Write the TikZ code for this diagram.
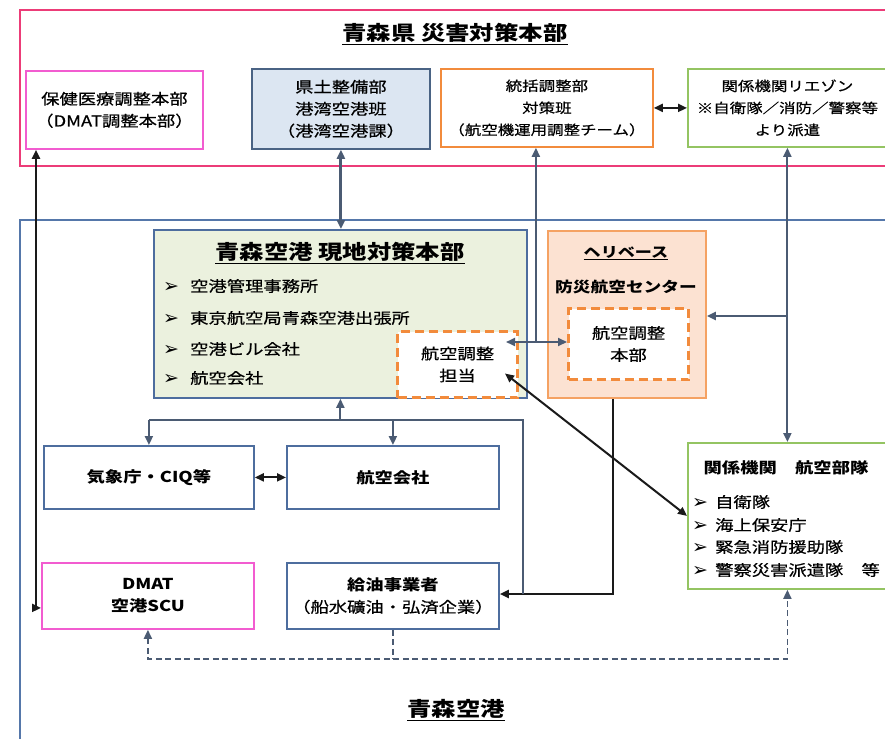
\documentclass[tikz,border=0pt]{standalone}
\usepackage{fontspec}
\setmainfont{Noto Sans CJK JP}[FakeStretch=1.22, UprightFeatures={FakeBold=0.6}]
\newfontfamily\djv{DejaVu Sans}
\usetikzlibrary{arrows.meta,calc}
\definecolor{prefc}{HTML}{EC3C78}
\definecolor{magc}{HTML}{F25CD0}
\definecolor{navyc}{HTML}{4A6384}
\definecolor{lbluec}{HTML}{DCE6F2}
\definecolor{orgc}{HTML}{F28B3C}
\definecolor{grnc}{HTML}{94C462}
\definecolor{apbc}{HTML}{5577AA}
\definecolor{lgrnc}{HTML}{EBF1DE}
\definecolor{lorgc}{HTML}{FCE2D2}
\definecolor{linec}{HTML}{4B5B73}
\definecolor{bxc}{HTML}{4D6D9E}
\definecolor{blkc}{HTML}{1A1A1A}
\newcommand{\blt}{\raisebox{-1pt}{\djv\bfseries\fontsize{19}{20}\selectfont ➢}}
\begin{document}
\begin{tikzpicture}[x=1pt,y=-1pt, >={Triangle[length=9pt,width=8pt]},
  bx/.style={draw, line width=1.8pt, anchor=north west, inner sep=0pt, align=center},
  dbox/.style={draw=orgc, fill=white, line width=3pt, dash pattern=on 9pt off 5pt, anchor=north west, inner sep=0pt, align=center},
  gl/.style={draw=linec, line width=2pt},
  gw/.style={draw=linec, line width=3pt},
  bl/.style={draw=blkc, line width=2pt},
  dl/.style={draw=linec, line width=1.8pt, dash pattern=on 6pt off 3.5pt},
  fa/.style={font=\fontsize{15}{22}\selectfont},
  fb/.style={font=\fontsize{13.5}{22}\selectfont},
  ft/.style={font=\bfseries\fontsize{20}{22}\selectfont},
  fi/.style={font=\fontsize{15}{20}\selectfont, anchor=west, inner sep=0pt}
]
\useasboundingbox (0,0) rectangle (885,738);
\fill[white] (0,0) rectangle (885,738);

% containers
\node[bx, draw=prefc, line width=2pt, minimum width=880pt, minimum height=156pt] (pref) at (19,9) {};
\node[bx, draw=apbc, line width=2pt, minimum width=880pt, minimum height=540pt] (apt) at (19,219) {};
\node[ft] (preft) at (455,34) {\underline{青森県 災害対策本部}};
\node[ft] (aptt) at (456,710) {\underline{青森空港}};

% top boxes
\node[bx, draw=magc, fa, minimum width=177pt, minimum height=78pt] (hoken) at (25,70) {保健医療調整本部\\（DMAT調整本部）};
\node[bx, draw=navyc, fill=lbluec, fa, minimum width=178pt, minimum height=80pt] (kendo) at (251,68) {県土整備部\\港湾空港班\\（港湾空港課）};
\node[bx, draw=orgc, fb, minimum width=212pt, minimum height=78pt] (tokatsu) at (440,68) {統括調整部\\対策班\\（航空機運用調整チーム）};
\node[bx, draw=grnc, fb, minimum width=199pt, minimum height=78pt] (liaison) at (687,68) {関係機関リエゾン\\※自衛隊／消防／警察等\\より派遣};

% local HQ
\node[bx, draw=bxc, fill=lgrnc, minimum width=373pt, minimum height=168pt] (genchi) at (153,229) {};
\node[ft] (genchit) at (340,253) {\underline{青森空港 現地対策本部}};
\node[fi] (g1) at (163,286) {\makebox[27pt][l]{\blt}空港管理事務所};
\node[fi] (g2) at (163,318) {\makebox[27pt][l]{\blt}東京航空局青森空港出張所};
\node[fi] (g3) at (163,349) {\makebox[27pt][l]{\blt}空港ビル会社};
\node[fi] (g4) at (163,378) {\makebox[27pt][l]{\blt}航空会社};
\node[dbox, fa, minimum width=120pt, minimum height=66pt] (tanto) at (396,330) {航空調整\\担当};

% heli base
\node[bx, draw=orgc!80, fill=lorgc, minimum width=158pt, minimum height=167pt] (heli) at (547,230) {};
\node[font=\bfseries\fontsize{14}{18}\selectfont] (helit) at (626,253) {\underline{ヘリベース}};
\node[font=\bfseries\fontsize{14.5}{18}\selectfont] (helis) at (626,287) {防災航空センター};
\node[dbox, fa, minimum width=120pt, minimum height=71pt] (honbu) at (567,307) {航空調整\\本部};

% lower boxes
\node[bx, draw=bxc, font=\bfseries\fontsize{15}{22}\selectfont, minimum width=210pt, minimum height=63pt] (kisho) at (43,445) {気象庁・CIQ等};
\node[bx, draw=bxc, font=\bfseries\fontsize{15}{22}\selectfont, minimum width=212pt, minimum height=63pt] (koku) at (286,445) {航空会社};
\node[bx, draw=magc, font=\bfseries\fontsize{15}{22}\selectfont, minimum width=212pt, minimum height=66pt] (dmat) at (41,562) {DMAT\\空港SCU};
\node[bx, draw=bxc, fa, minimum width=212pt, minimum height=66pt] (kyuyu) at (286,562) {\textbf{給油事業者}\\（船水礦油・弘済企業）};

% air units
\node[bx, draw=grnc, minimum width=199pt, minimum height=146pt] (butai) at (687,442) {};
\node[font=\bfseries\fontsize{15}{20}\selectfont] (butait) at (786,468) {関係機関　航空部隊};
\node[fi] (b1) at (692,502) {\makebox[23pt][l]{\blt}自衛隊};
\node[fi] (b2) at (692,525) {\makebox[23pt][l]{\blt}海上保安庁};
\node[fi] (b3) at (692,547) {\makebox[23pt][l]{\blt}緊急消防援助隊};
\node[fi] (b4) at (692,570) {\makebox[23pt][l]{\blt}警察災害派遣隊　等};

% helper coordinates
\coordinate (xl) at (36,0);
\coordinate (bus) at (523,420);
\coordinate (hz) at (0,342);
\coordinate (br) at (787,316);
\coordinate (dash) at (0,659);
\coordinate (fuel) at (0,594);

% connectors
\draw[bl, <->] (xl |- hoken.south) |- ([yshift=-12pt]dmat.west);
\draw[gw, <->] (kendo.south) -- (kendo.south |- genchi.north);
\draw[gl, <->] (honbu.west |- hz) -- ([xshift=-13pt]tanto.east |- hz);
\draw[gl, ->] ([xshift=-11pt]tokatsu.south |- hz) -- ([xshift=-11pt]tokatsu.south);
\draw[bl, <->] (tokatsu.east) -- (liaison.west);
\draw[gl, <->] (liaison.south) -- (butai.north);
\draw[gl, ->] (liaison.south |- br) -- (heli.east |- br);
\draw[bl, <->] ([xshift=-14pt,yshift=-9pt]tanto.east) -- (butai.west);
\draw[bl, ->] ([xshift=-14pt]heli.south) |- (kyuyu.east |- fuel);
\draw[gl] (kisho.north |- bus) -- (bus) -- (bus |- fuel);
\draw[gl, ->] (genchi.south |- bus) -- (genchi.south);
\draw[gl, ->] (kisho.north |- bus) -- (kisho.north);
\draw[gl, ->] (koku.north |- bus) -- (koku.north);
\draw[bl, <->] (kisho.east) -- (koku.west);
\draw[dl, <->] (dmat.south) -- (dmat.south |- dash) -- (butai.south |- dash) -- (butai.south);
\draw[dl] (kyuyu.south) -- (kyuyu.south |- dash);
\end{tikzpicture}
\end{document}
